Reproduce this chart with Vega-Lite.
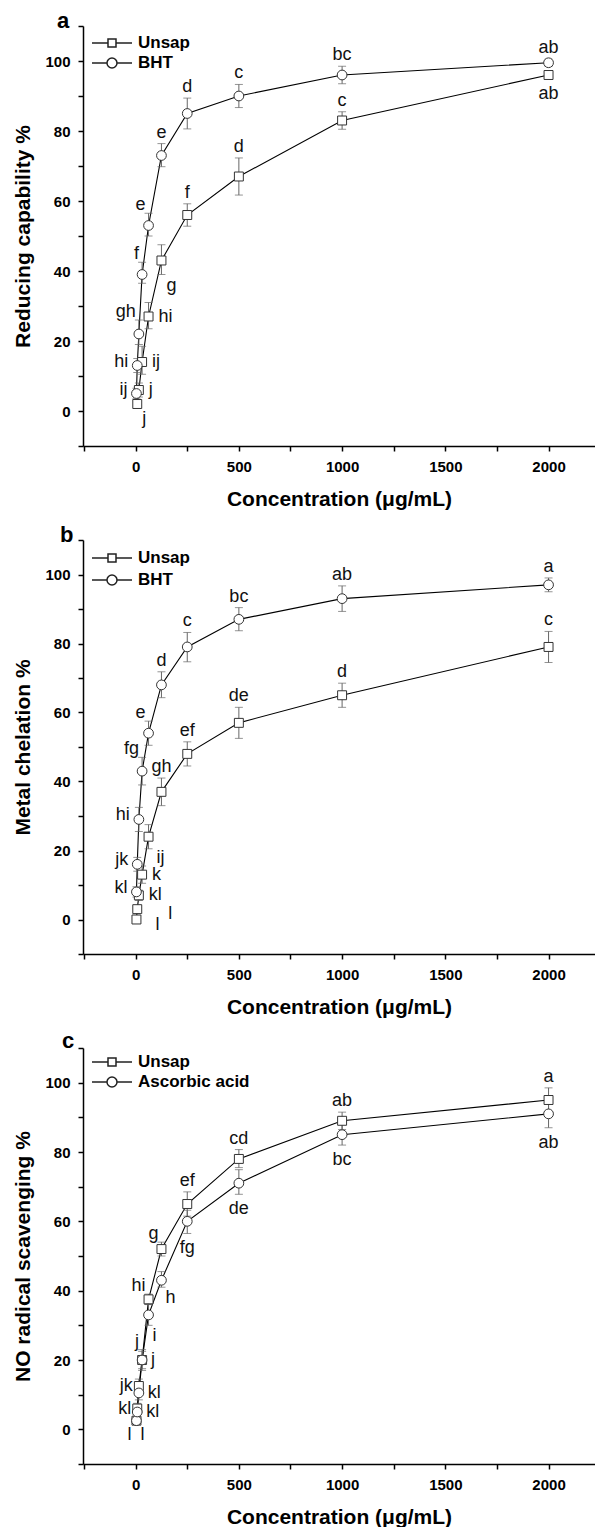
{
  "$schema": "https://vega.github.io/schema/vega-lite/v6.json",
  "background": "white",
  "padding": {"left": 12, "top": 10, "right": 0, "bottom": 0},
  "bounds": "flush",
  "spacing": 94,
  "resolve": {"scale": {"shape": "independent"}, "legend": {"shape": "independent"}},
  "datasets": {
    "a": [
      {"s":"Unsap","conc":7.8,"mean":2,"lower":1,"upper":3,"label":"j","side":"downright"},
      {"s":"Unsap","conc":15.6,"mean":6,"lower":4,"upper":8,"label":"j","side":"right"},
      {"s":"Unsap","conc":31.25,"mean":14,"lower":10.5,"upper":18.5,"label":"ij","side":"right"},
      {"s":"Unsap","conc":62.5,"mean":27,"lower":23.5,"upper":31,"label":"hi","side":"right"},
      {"s":"Unsap","conc":125,"mean":43,"lower":39,"upper":47.5,"label":"g","side":"downright"},
      {"s":"Unsap","conc":250,"mean":56,"lower":52.8,"upper":59.2,"label":"f","side":"above"},
      {"s":"Unsap","conc":500,"mean":67,"lower":61.7,"upper":72.3,"label":"d","side":"above"},
      {"s":"Unsap","conc":1000,"mean":83,"lower":80.5,"upper":85.5,"label":"c","side":"above"},
      {"s":"Unsap","conc":2000,"mean":96,"lower":95,"upper":97,"label":"ab","side":"below"},
      {"s":"BHT","conc":3.9,"mean":5,"lower":3.5,"upper":6.5,"label":"ij","side":"left"},
      {"s":"BHT","conc":7.8,"mean":13,"lower":11,"upper":15,"label":"hi","side":"left"},
      {"s":"BHT","conc":15.6,"mean":22,"lower":19,"upper":26,"label":"gh","side":"upleft"},
      {"s":"BHT","conc":31.25,"mean":39,"lower":36.5,"upper":42.5,"label":"f","side":"upleft"},
      {"s":"BHT","conc":62.5,"mean":53,"lower":50,"upper":56.5,"label":"e","side":"upleft"},
      {"s":"BHT","conc":125,"mean":73,"lower":69.8,"upper":76.4,"label":"e","side":"above"},
      {"s":"BHT","conc":250,"mean":85,"lower":80.6,"upper":89.4,"label":"d","side":"above"},
      {"s":"BHT","conc":500,"mean":90,"lower":86.7,"upper":93.3,"label":"c","side":"above"},
      {"s":"BHT","conc":1000,"mean":96,"lower":93.5,"upper":98.5,"label":"bc","side":"above"},
      {"s":"BHT","conc":2000,"mean":99.5,"lower":98.5,"upper":100.5,"label":"ab","side":"above"}
    ],
    "b": [
      {"s":"Unsap","conc":3.9,"mean":0,"lower":-0.5,"upper":0.5,"label":"l","side":"midright"},
      {"s":"Unsap","conc":7.8,"mean":3,"lower":2,"upper":4,"label":"l","side":"farright"},
      {"s":"Unsap","conc":15.6,"mean":7,"lower":5.5,"upper":8.5,"label":"kl","side":"right"},
      {"s":"Unsap","conc":31.25,"mean":13,"lower":10.5,"upper":15.5,"label":"k","side":"right"},
      {"s":"Unsap","conc":62.5,"mean":24,"lower":20.5,"upper":27.5,"label":"ij","side":"downright"},
      {"s":"Unsap","conc":125,"mean":37,"lower":33,"upper":41,"label":"gh","side":"above"},
      {"s":"Unsap","conc":250,"mean":48,"lower":44.5,"upper":51.5,"label":"ef","side":"above"},
      {"s":"Unsap","conc":500,"mean":57,"lower":52.5,"upper":61.5,"label":"de","side":"above"},
      {"s":"Unsap","conc":1000,"mean":65,"lower":61.5,"upper":68.5,"label":"d","side":"above"},
      {"s":"Unsap","conc":2000,"mean":79,"lower":74.5,"upper":83.5,"label":"c","side":"above"},
      {"s":"BHT","conc":3.9,"mean":8,"lower":6.5,"upper":9.5,"label":"kl","side":"left"},
      {"s":"BHT","conc":7.8,"mean":16,"lower":14,"upper":18,"label":"jk","side":"left"},
      {"s":"BHT","conc":15.6,"mean":29,"lower":25.5,"upper":32.5,"label":"hi","side":"left"},
      {"s":"BHT","conc":31.25,"mean":43,"lower":39,"upper":47,"label":"fg","side":"upleft"},
      {"s":"BHT","conc":62.5,"mean":54,"lower":50.5,"upper":57.5,"label":"e","side":"upleft"},
      {"s":"BHT","conc":125,"mean":68,"lower":64.3,"upper":71.8,"label":"d","side":"above"},
      {"s":"BHT","conc":250,"mean":79,"lower":74.7,"upper":83.2,"label":"c","side":"above"},
      {"s":"BHT","conc":500,"mean":87,"lower":83.7,"upper":90.4,"label":"bc","side":"above"},
      {"s":"BHT","conc":1000,"mean":93,"lower":89.3,"upper":96.7,"label":"ab","side":"above"},
      {"s":"BHT","conc":2000,"mean":97,"lower":95,"upper":99,"label":"a","side":"above"}
    ],
    "c": [
      {"s":"Unsap","conc":3.9,"mean":2.5,"lower":1.5,"upper":3.5,"label":"l","side":"downleft"},
      {"s":"Unsap","conc":7.8,"mean":6,"lower":4.5,"upper":7.5,"label":"kl","side":"left"},
      {"s":"Unsap","conc":15.6,"mean":12.5,"lower":10.5,"upper":14.5,"label":"jk","side":"left"},
      {"s":"Unsap","conc":31.25,"mean":20,"lower":17,"upper":23,"label":"j","side":"upleft"},
      {"s":"Unsap","conc":62.5,"mean":37.5,"lower":36,"upper":39,"label":"hi","side":"upleft"},
      {"s":"Unsap","conc":125,"mean":52,"lower":50,"upper":54,"label":"g","side":"upleft"},
      {"s":"Unsap","conc":250,"mean":65,"lower":61.5,"upper":68.5,"label":"ef","side":"above"},
      {"s":"Unsap","conc":500,"mean":78,"lower":75.5,"upper":80.7,"label":"cd","side":"above"},
      {"s":"Unsap","conc":1000,"mean":89,"lower":86.5,"upper":91.5,"label":"ab","side":"above"},
      {"s":"Unsap","conc":2000,"mean":95,"lower":91.5,"upper":98.5,"label":"a","side":"above"},
      {"s":"Ascorbic acid","conc":3.9,"mean":2.5,"lower":1.5,"upper":3.5,"label":"l","side":"downright"},
      {"s":"Ascorbic acid","conc":7.8,"mean":5,"lower":3.5,"upper":6.5,"label":"kl","side":"right"},
      {"s":"Ascorbic acid","conc":15.6,"mean":10.5,"lower":8.5,"upper":12.5,"label":"kl","side":"right"},
      {"s":"Ascorbic acid","conc":31.25,"mean":20,"lower":17.5,"upper":22.5,"label":"j","side":"right"},
      {"s":"Ascorbic acid","conc":62.5,"mean":33,"lower":30,"upper":36,"label":"i","side":"downright"},
      {"s":"Ascorbic acid","conc":125,"mean":43,"lower":41,"upper":45.5,"label":"h","side":"downright"},
      {"s":"Ascorbic acid","conc":250,"mean":60,"lower":56.5,"upper":63.2,"label":"fg","side":"below"},
      {"s":"Ascorbic acid","conc":500,"mean":71,"lower":67.8,"upper":74.9,"label":"de","side":"below"},
      {"s":"Ascorbic acid","conc":1000,"mean":85,"lower":82,"upper":88,"label":"bc","side":"below"},
      {"s":"Ascorbic acid","conc":2000,"mean":91,"lower":87,"upper":95,"label":"ab","side":"below"}
    ]
  },
  "vconcat": [
    {
      "width": 512, "height": 420,
      "data": {"name": "a"},
      "title": {"text": "a", "anchor": "start", "frame": "group", "dx": -26, "offset": -14, "fontSize": 22, "fontWeight": "bold", "font": "Liberation Sans", "color": "black"},
      "encoding": {
        "x": {"field": "conc", "type": "quantitative", "scale": {"domain": [-255, 2225], "nice": false, "zero": false},
          "axis": {"title": "Concentration (μg/mL)", "values": [-250, 0, 250, 500, 750, 1000, 1250, 1500, 1750, 2000], "format": "d", "labelExpr": "datum.value >= 0 && datum.value % 500 == 0 ? datum.label : ''", "labelPadding": 8, "titlePadding": 14}}
      },
      "layer": [
        {"mark": {"type": "line", "color": "black", "strokeWidth": 1.1},
         "encoding": {"y": {"field": "mean", "type": "quantitative", "scale": {"domain": [-10, 110], "nice": false, "zero": false}, "axis": {"title": "Reducing capability %", "values": [-10, 0, 10, 20, 30, 40, 50, 60, 70, 80, 90, 100, 110], "format": "d", "labelExpr": "datum.value >= 0 && datum.value <= 100 && datum.value % 20 == 0 ? datum.label : ''", "labelPadding": 8, "titlePadding": 11}},
           "detail": {"field": "s"}}},
        {"mark": {"type": "errorbar", "ticks": {"size": 8}, "color": "#666", "thickness": 1},
         "encoding": {"y": {"field": "lower", "type": "quantitative", "scale": {"domain": [-10, 110], "nice": false, "zero": false}, "axis": {"title": "Reducing capability %", "values": [-10, 0, 10, 20, 30, 40, 50, 60, 70, 80, 90, 100, 110], "format": "d", "labelExpr": "datum.value >= 0 && datum.value <= 100 && datum.value % 20 == 0 ? datum.label : ''", "labelPadding": 8, "titlePadding": 11}}, "y2": {"field": "upper"}}},
        {"transform": [{"filter": "datum.s === 'Unsap'"}], "mark": {"type": "point", "shape": "square", "filled": true, "fill": "white", "stroke": "#333", "strokeWidth": 1, "opacity": 1, "size": 80},
         "encoding": {"y": {"field": "mean", "type": "quantitative", "scale": {"domain": [-10, 110], "nice": false, "zero": false}, "axis": {"title": "Reducing capability %", "values": [-10, 0, 10, 20, 30, 40, 50, 60, 70, 80, 90, 100, 110], "format": "d", "labelExpr": "datum.value >= 0 && datum.value <= 100 && datum.value % 20 == 0 ? datum.label : ''", "labelPadding": 8, "titlePadding": 11}}}},
        {"transform": [{"filter": "datum.s !== 'Unsap'"}], "mark": {"type": "point", "shape": "circle", "filled": true, "fill": "white", "stroke": "#333", "strokeWidth": 1, "opacity": 1, "size": 95},
         "encoding": {"y": {"field": "mean", "type": "quantitative", "scale": {"domain": [-10, 110], "nice": false, "zero": false}, "axis": {"title": "Reducing capability %", "values": [-10, 0, 10, 20, 30, 40, 50, 60, 70, 80, 90, 100, 110], "format": "d", "labelExpr": "datum.value >= 0 && datum.value <= 100 && datum.value % 20 == 0 ? datum.label : ''", "labelPadding": 8, "titlePadding": 11}}}},
        {"transform": [{"filter": "false"}], "mark": {"type": "point", "filled": true, "fill": "white", "stroke": "#222", "strokeWidth": 1, "opacity": 1},
         "encoding": {"y": {"field": "mean", "type": "quantitative", "scale": {"domain": [-10, 110], "nice": false, "zero": false}, "axis": {"title": "Reducing capability %", "values": [-10, 0, 10, 20, 30, 40, 50, 60, 70, 80, 90, 100, 110], "format": "d", "labelExpr": "datum.value >= 0 && datum.value <= 100 && datum.value % 20 == 0 ? datum.label : ''", "labelPadding": 8, "titlePadding": 11}},
           "shape": {"field": "s", "type": "nominal", "scale": {"domain": ["Unsap", "BHT"], "range": ["M-2,0L-0.4,0M0.4,0L2,0M-0.4,-0.4L0.4,-0.4L0.4,0.4L-0.4,0.4Z", "M-2,0L-0.5,0M0.5,0L2,0M0.5,0A0.5,0.5,0,1,1,-0.5,0A0.5,0.5,0,1,1,0.5,0Z"]},
             "legend": {"title": null, "orient": "none", "legendX": 18, "legendY": 6, "padding": 0, "symbolSize": 400, "rowPadding": 1, "labelOffset": 15, "labelFont": "Liberation Sans", "labelFontSize": 17, "labelFontWeight": "bold", "labelColor": "black"}}}},
        {"transform": [{"filter": "datum.side === 'above'"}], "mark": {"type": "text", "font": "Liberation Sans", "fontSize": 18, "color": "#111", "align": "center", "baseline": "alphabetic", "dy": -6},
         "encoding": {"y": {"field": "upper", "type": "quantitative", "scale": {"domain": [-10, 110], "nice": false, "zero": false}, "axis": {"title": "Reducing capability %", "values": [-10, 0, 10, 20, 30, 40, 50, 60, 70, 80, 90, 100, 110], "format": "d", "labelExpr": "datum.value >= 0 && datum.value <= 100 && datum.value % 20 == 0 ? datum.label : ''", "labelPadding": 8, "titlePadding": 11}}, "text": {"field": "label"}}},
        {"transform": [{"filter": "datum.side === 'below'"}], "mark": {"type": "text", "font": "Liberation Sans", "fontSize": 18, "color": "#111", "align": "center", "baseline": "top", "dy": 6},
         "encoding": {"y": {"field": "lower", "type": "quantitative", "scale": {"domain": [-10, 110], "nice": false, "zero": false}, "axis": {"title": "Reducing capability %", "values": [-10, 0, 10, 20, 30, 40, 50, 60, 70, 80, 90, 100, 110], "format": "d", "labelExpr": "datum.value >= 0 && datum.value <= 100 && datum.value % 20 == 0 ? datum.label : ''", "labelPadding": 8, "titlePadding": 11}}, "text": {"field": "label"}}},
        {"transform": [{"filter": "datum.side === 'upleft'"}], "mark": {"type": "text", "font": "Liberation Sans", "fontSize": 18, "color": "#111", "align": "right", "baseline": "alphabetic", "dx": -3, "dy": -3},
         "encoding": {"y": {"field": "upper", "type": "quantitative", "scale": {"domain": [-10, 110], "nice": false, "zero": false}, "axis": {"title": "Reducing capability %", "values": [-10, 0, 10, 20, 30, 40, 50, 60, 70, 80, 90, 100, 110], "format": "d", "labelExpr": "datum.value >= 0 && datum.value <= 100 && datum.value % 20 == 0 ? datum.label : ''", "labelPadding": 8, "titlePadding": 11}}, "text": {"field": "label"}}},
        {"transform": [{"filter": "datum.side === 'left'"}], "mark": {"type": "text", "font": "Liberation Sans", "fontSize": 18, "color": "#111", "align": "right", "baseline": "middle", "dx": -9, "dy": -4},
         "encoding": {"y": {"field": "mean", "type": "quantitative", "scale": {"domain": [-10, 110], "nice": false, "zero": false}, "axis": {"title": "Reducing capability %", "values": [-10, 0, 10, 20, 30, 40, 50, 60, 70, 80, 90, 100, 110], "format": "d", "labelExpr": "datum.value >= 0 && datum.value <= 100 && datum.value % 20 == 0 ? datum.label : ''", "labelPadding": 8, "titlePadding": 11}}, "text": {"field": "label"}}},
        {"transform": [{"filter": "datum.side === 'right'"}], "mark": {"type": "text", "font": "Liberation Sans", "fontSize": 18, "color": "#111", "align": "left", "baseline": "middle", "dx": 10},
         "encoding": {"y": {"field": "mean", "type": "quantitative", "scale": {"domain": [-10, 110], "nice": false, "zero": false}, "axis": {"title": "Reducing capability %", "values": [-10, 0, 10, 20, 30, 40, 50, 60, 70, 80, 90, 100, 110], "format": "d", "labelExpr": "datum.value >= 0 && datum.value <= 100 && datum.value % 20 == 0 ? datum.label : ''", "labelPadding": 8, "titlePadding": 11}}, "text": {"field": "label"}}},
        {"transform": [{"filter": "datum.side === 'downright'"}], "mark": {"type": "text", "font": "Liberation Sans", "fontSize": 18, "color": "#111", "align": "left", "baseline": "top", "dx": 5, "dy": 2},
         "encoding": {"y": {"field": "lower", "type": "quantitative", "scale": {"domain": [-10, 110], "nice": false, "zero": false}, "axis": {"title": "Reducing capability %", "values": [-10, 0, 10, 20, 30, 40, 50, 60, 70, 80, 90, 100, 110], "format": "d", "labelExpr": "datum.value >= 0 && datum.value <= 100 && datum.value % 20 == 0 ? datum.label : ''", "labelPadding": 8, "titlePadding": 11}}, "text": {"field": "label"}}}
      ]
    },
    {
      "width": 512, "height": 414,
      "data": {"name": "b"},
      "title": {"text": "b", "anchor": "start", "frame": "group", "dx": -23, "offset": -14, "fontSize": 22, "fontWeight": "bold", "font": "Liberation Sans", "color": "black"},
      "encoding": {
        "x": {"field": "conc", "type": "quantitative", "scale": {"domain": [-255, 2225], "nice": false, "zero": false},
          "axis": {"title": "Concentration (μg/mL)", "values": [-250, 0, 250, 500, 750, 1000, 1250, 1500, 1750, 2000], "format": "d", "labelExpr": "datum.value >= 0 && datum.value % 500 == 0 ? datum.label : ''", "labelPadding": 8, "titlePadding": 14}}
      },
      "layer": [
        {"mark": {"type": "line", "color": "black", "strokeWidth": 1.1},
         "encoding": {"y": {"field": "mean", "type": "quantitative", "scale": {"domain": [-10, 110], "nice": false, "zero": false}, "axis": {"title": "Metal chelation %", "values": [-10, 0, 10, 20, 30, 40, 50, 60, 70, 80, 90, 100, 110], "format": "d", "labelExpr": "datum.value >= 0 && datum.value <= 100 && datum.value % 20 == 0 ? datum.label : ''", "labelPadding": 8, "titlePadding": 11}},
           "detail": {"field": "s"}}},
        {"mark": {"type": "errorbar", "ticks": {"size": 8}, "color": "#666", "thickness": 1},
         "encoding": {"y": {"field": "lower", "type": "quantitative", "scale": {"domain": [-10, 110], "nice": false, "zero": false}, "axis": {"title": "Metal chelation %", "values": [-10, 0, 10, 20, 30, 40, 50, 60, 70, 80, 90, 100, 110], "format": "d", "labelExpr": "datum.value >= 0 && datum.value <= 100 && datum.value % 20 == 0 ? datum.label : ''", "labelPadding": 8, "titlePadding": 11}}, "y2": {"field": "upper"}}},
        {"transform": [{"filter": "datum.s === 'Unsap'"}], "mark": {"type": "point", "shape": "square", "filled": true, "fill": "white", "stroke": "#333", "strokeWidth": 1, "opacity": 1, "size": 80},
         "encoding": {"y": {"field": "mean", "type": "quantitative", "scale": {"domain": [-10, 110], "nice": false, "zero": false}, "axis": {"title": "Metal chelation %", "values": [-10, 0, 10, 20, 30, 40, 50, 60, 70, 80, 90, 100, 110], "format": "d", "labelExpr": "datum.value >= 0 && datum.value <= 100 && datum.value % 20 == 0 ? datum.label : ''", "labelPadding": 8, "titlePadding": 11}}}},
        {"transform": [{"filter": "datum.s !== 'Unsap'"}], "mark": {"type": "point", "shape": "circle", "filled": true, "fill": "white", "stroke": "#333", "strokeWidth": 1, "opacity": 1, "size": 95},
         "encoding": {"y": {"field": "mean", "type": "quantitative", "scale": {"domain": [-10, 110], "nice": false, "zero": false}, "axis": {"title": "Metal chelation %", "values": [-10, 0, 10, 20, 30, 40, 50, 60, 70, 80, 90, 100, 110], "format": "d", "labelExpr": "datum.value >= 0 && datum.value <= 100 && datum.value % 20 == 0 ? datum.label : ''", "labelPadding": 8, "titlePadding": 11}}}},
        {"transform": [{"filter": "false"}], "mark": {"type": "point", "filled": true, "fill": "white", "stroke": "#222", "strokeWidth": 1, "opacity": 1},
         "encoding": {"y": {"field": "mean", "type": "quantitative", "scale": {"domain": [-10, 110], "nice": false, "zero": false}, "axis": {"title": "Metal chelation %", "values": [-10, 0, 10, 20, 30, 40, 50, 60, 70, 80, 90, 100, 110], "format": "d", "labelExpr": "datum.value >= 0 && datum.value <= 100 && datum.value % 20 == 0 ? datum.label : ''", "labelPadding": 8, "titlePadding": 11}},
           "shape": {"field": "s", "type": "nominal", "scale": {"domain": ["Unsap", "BHT"], "range": ["M-2,0L-0.4,0M0.4,0L2,0M-0.4,-0.4L0.4,-0.4L0.4,0.4L-0.4,0.4Z", "M-2,0L-0.5,0M0.5,0L2,0M0.5,0A0.5,0.5,0,1,1,-0.5,0A0.5,0.5,0,1,1,0.5,0Z"]},
             "legend": {"title": null, "orient": "none", "legendX": 18, "legendY": 7, "padding": 0, "symbolSize": 400, "rowPadding": 3, "labelOffset": 15, "labelFont": "Liberation Sans", "labelFontSize": 17, "labelFontWeight": "bold", "labelColor": "black"}}}},
        {"transform": [{"filter": "datum.side === 'above'"}], "mark": {"type": "text", "font": "Liberation Sans", "fontSize": 18, "color": "#111", "align": "center", "baseline": "alphabetic", "dy": -6},
         "encoding": {"y": {"field": "upper", "type": "quantitative", "scale": {"domain": [-10, 110], "nice": false, "zero": false}, "axis": {"title": "Metal chelation %", "values": [-10, 0, 10, 20, 30, 40, 50, 60, 70, 80, 90, 100, 110], "format": "d", "labelExpr": "datum.value >= 0 && datum.value <= 100 && datum.value % 20 == 0 ? datum.label : ''", "labelPadding": 8, "titlePadding": 11}}, "text": {"field": "label"}}},
        {"transform": [{"filter": "datum.side === 'upleft'"}], "mark": {"type": "text", "font": "Liberation Sans", "fontSize": 18, "color": "#111", "align": "right", "baseline": "alphabetic", "dx": -3, "dy": -3},
         "encoding": {"y": {"field": "upper", "type": "quantitative", "scale": {"domain": [-10, 110], "nice": false, "zero": false}, "axis": {"title": "Metal chelation %", "values": [-10, 0, 10, 20, 30, 40, 50, 60, 70, 80, 90, 100, 110], "format": "d", "labelExpr": "datum.value >= 0 && datum.value <= 100 && datum.value % 20 == 0 ? datum.label : ''", "labelPadding": 8, "titlePadding": 11}}, "text": {"field": "label"}}},
        {"transform": [{"filter": "datum.side === 'left'"}], "mark": {"type": "text", "font": "Liberation Sans", "fontSize": 18, "color": "#111", "align": "right", "baseline": "middle", "dx": -9, "dy": -4},
         "encoding": {"y": {"field": "mean", "type": "quantitative", "scale": {"domain": [-10, 110], "nice": false, "zero": false}, "axis": {"title": "Metal chelation %", "values": [-10, 0, 10, 20, 30, 40, 50, 60, 70, 80, 90, 100, 110], "format": "d", "labelExpr": "datum.value >= 0 && datum.value <= 100 && datum.value % 20 == 0 ? datum.label : ''", "labelPadding": 8, "titlePadding": 11}}, "text": {"field": "label"}}},
        {"transform": [{"filter": "datum.side === 'right'"}], "mark": {"type": "text", "font": "Liberation Sans", "fontSize": 18, "color": "#111", "align": "left", "baseline": "middle", "dx": 10},
         "encoding": {"y": {"field": "mean", "type": "quantitative", "scale": {"domain": [-10, 110], "nice": false, "zero": false}, "axis": {"title": "Metal chelation %", "values": [-10, 0, 10, 20, 30, 40, 50, 60, 70, 80, 90, 100, 110], "format": "d", "labelExpr": "datum.value >= 0 && datum.value <= 100 && datum.value % 20 == 0 ? datum.label : ''", "labelPadding": 8, "titlePadding": 11}}, "text": {"field": "label"}}},
        {"transform": [{"filter": "datum.side === 'midright'"}], "mark": {"type": "text", "font": "Liberation Sans", "fontSize": 18, "color": "#111", "align": "left", "baseline": "middle", "dx": 19, "dy": 5},
         "encoding": {"y": {"field": "mean", "type": "quantitative", "scale": {"domain": [-10, 110], "nice": false, "zero": false}, "axis": {"title": "Metal chelation %", "values": [-10, 0, 10, 20, 30, 40, 50, 60, 70, 80, 90, 100, 110], "format": "d", "labelExpr": "datum.value >= 0 && datum.value <= 100 && datum.value % 20 == 0 ? datum.label : ''", "labelPadding": 8, "titlePadding": 11}}, "text": {"field": "label"}}},
        {"transform": [{"filter": "datum.side === 'farright'"}], "mark": {"type": "text", "font": "Liberation Sans", "fontSize": 18, "color": "#111", "align": "left", "baseline": "middle", "dx": 31, "dy": 5},
         "encoding": {"y": {"field": "mean", "type": "quantitative", "scale": {"domain": [-10, 110], "nice": false, "zero": false}, "axis": {"title": "Metal chelation %", "values": [-10, 0, 10, 20, 30, 40, 50, 60, 70, 80, 90, 100, 110], "format": "d", "labelExpr": "datum.value >= 0 && datum.value <= 100 && datum.value % 20 == 0 ? datum.label : ''", "labelPadding": 8, "titlePadding": 11}}, "text": {"field": "label"}}},
        {"transform": [{"filter": "datum.side === 'downright'"}], "mark": {"type": "text", "font": "Liberation Sans", "fontSize": 18, "color": "#111", "align": "left", "baseline": "top", "dx": 8, "dy": 0},
         "encoding": {"y": {"field": "lower", "type": "quantitative", "scale": {"domain": [-10, 110], "nice": false, "zero": false}, "axis": {"title": "Metal chelation %", "values": [-10, 0, 10, 20, 30, 40, 50, 60, 70, 80, 90, 100, 110], "format": "d", "labelExpr": "datum.value >= 0 && datum.value <= 100 && datum.value % 20 == 0 ? datum.label : ''", "labelPadding": 8, "titlePadding": 11}}, "text": {"field": "label"}}}
      ]
    },
    {
      "width": 512, "height": 416,
      "data": {"name": "c"},
      "title": {"text": "c", "anchor": "start", "frame": "group", "dx": -21, "offset": -12, "fontSize": 22, "fontWeight": "bold", "font": "Liberation Sans", "color": "black"},
      "encoding": {
        "x": {"field": "conc", "type": "quantitative", "scale": {"domain": [-255, 2225], "nice": false, "zero": false},
          "axis": {"title": "Concentration (μg/mL)", "values": [-250, 0, 250, 500, 750, 1000, 1250, 1500, 1750, 2000], "format": "d", "labelExpr": "datum.value >= 0 && datum.value % 500 == 0 ? datum.label : ''", "labelPadding": 8, "titlePadding": 14}}
      },
      "layer": [
        {"mark": {"type": "line", "color": "black", "strokeWidth": 1.1},
         "encoding": {"y": {"field": "mean", "type": "quantitative", "scale": {"domain": [-10, 110], "nice": false, "zero": false}, "axis": {"title": "NO radical scavenging %", "values": [-10, 0, 10, 20, 30, 40, 50, 60, 70, 80, 90, 100, 110], "format": "d", "labelExpr": "datum.value >= 0 && datum.value <= 100 && datum.value % 20 == 0 ? datum.label : ''", "labelPadding": 8, "titlePadding": 11}},
           "detail": {"field": "s"}}},
        {"mark": {"type": "errorbar", "ticks": {"size": 8}, "color": "#666", "thickness": 1},
         "encoding": {"y": {"field": "lower", "type": "quantitative", "scale": {"domain": [-10, 110], "nice": false, "zero": false}, "axis": {"title": "NO radical scavenging %", "values": [-10, 0, 10, 20, 30, 40, 50, 60, 70, 80, 90, 100, 110], "format": "d", "labelExpr": "datum.value >= 0 && datum.value <= 100 && datum.value % 20 == 0 ? datum.label : ''", "labelPadding": 8, "titlePadding": 11}}, "y2": {"field": "upper"}}},
        {"transform": [{"filter": "datum.s === 'Unsap'"}], "mark": {"type": "point", "shape": "square", "filled": true, "fill": "white", "stroke": "#333", "strokeWidth": 1, "opacity": 1, "size": 80},
         "encoding": {"y": {"field": "mean", "type": "quantitative", "scale": {"domain": [-10, 110], "nice": false, "zero": false}, "axis": {"title": "NO radical scavenging %", "values": [-10, 0, 10, 20, 30, 40, 50, 60, 70, 80, 90, 100, 110], "format": "d", "labelExpr": "datum.value >= 0 && datum.value <= 100 && datum.value % 20 == 0 ? datum.label : ''", "labelPadding": 8, "titlePadding": 11}}}},
        {"transform": [{"filter": "datum.s !== 'Unsap'"}], "mark": {"type": "point", "shape": "circle", "filled": true, "fill": "white", "stroke": "#333", "strokeWidth": 1, "opacity": 1, "size": 95},
         "encoding": {"y": {"field": "mean", "type": "quantitative", "scale": {"domain": [-10, 110], "nice": false, "zero": false}, "axis": {"title": "NO radical scavenging %", "values": [-10, 0, 10, 20, 30, 40, 50, 60, 70, 80, 90, 100, 110], "format": "d", "labelExpr": "datum.value >= 0 && datum.value <= 100 && datum.value % 20 == 0 ? datum.label : ''", "labelPadding": 8, "titlePadding": 11}}}},
        {"transform": [{"filter": "false"}], "mark": {"type": "point", "filled": true, "fill": "white", "stroke": "#222", "strokeWidth": 1, "opacity": 1},
         "encoding": {"y": {"field": "mean", "type": "quantitative", "scale": {"domain": [-10, 110], "nice": false, "zero": false}, "axis": {"title": "NO radical scavenging %", "values": [-10, 0, 10, 20, 30, 40, 50, 60, 70, 80, 90, 100, 110], "format": "d", "labelExpr": "datum.value >= 0 && datum.value <= 100 && datum.value % 20 == 0 ? datum.label : ''", "labelPadding": 8, "titlePadding": 11}},
           "shape": {"field": "s", "type": "nominal", "scale": {"domain": ["Unsap", "Ascorbic acid"], "range": ["M-2,0L-0.4,0M0.4,0L2,0M-0.4,-0.4L0.4,-0.4L0.4,0.4L-0.4,0.4Z", "M-2,0L-0.5,0M0.5,0L2,0M0.5,0A0.5,0.5,0,1,1,-0.5,0A0.5,0.5,0,1,1,0.5,0Z"]},
             "legend": {"title": null, "orient": "none", "legendX": 18, "legendY": 3, "padding": 0, "symbolSize": 400, "rowPadding": 1, "labelOffset": 15, "labelFont": "Liberation Sans", "labelFontSize": 17, "labelFontWeight": "bold", "labelColor": "black"}}}},
        {"transform": [{"filter": "datum.side === 'above'"}], "mark": {"type": "text", "font": "Liberation Sans", "fontSize": 18, "color": "#111", "align": "center", "baseline": "alphabetic", "dy": -6},
         "encoding": {"y": {"field": "upper", "type": "quantitative", "scale": {"domain": [-10, 110], "nice": false, "zero": false}, "axis": {"title": "NO radical scavenging %", "values": [-10, 0, 10, 20, 30, 40, 50, 60, 70, 80, 90, 100, 110], "format": "d", "labelExpr": "datum.value >= 0 && datum.value <= 100 && datum.value % 20 == 0 ? datum.label : ''", "labelPadding": 8, "titlePadding": 11}}, "text": {"field": "label"}}},
        {"transform": [{"filter": "datum.side === 'below'"}], "mark": {"type": "text", "font": "Liberation Sans", "fontSize": 18, "color": "#111", "align": "center", "baseline": "top", "dy": 6},
         "encoding": {"y": {"field": "lower", "type": "quantitative", "scale": {"domain": [-10, 110], "nice": false, "zero": false}, "axis": {"title": "NO radical scavenging %", "values": [-10, 0, 10, 20, 30, 40, 50, 60, 70, 80, 90, 100, 110], "format": "d", "labelExpr": "datum.value >= 0 && datum.value <= 100 && datum.value % 20 == 0 ? datum.label : ''", "labelPadding": 8, "titlePadding": 11}}, "text": {"field": "label"}}},
        {"transform": [{"filter": "datum.side === 'upleft'"}], "mark": {"type": "text", "font": "Liberation Sans", "fontSize": 18, "color": "#111", "align": "right", "baseline": "alphabetic", "dx": -3, "dy": -3},
         "encoding": {"y": {"field": "upper", "type": "quantitative", "scale": {"domain": [-10, 110], "nice": false, "zero": false}, "axis": {"title": "NO radical scavenging %", "values": [-10, 0, 10, 20, 30, 40, 50, 60, 70, 80, 90, 100, 110], "format": "d", "labelExpr": "datum.value >= 0 && datum.value <= 100 && datum.value % 20 == 0 ? datum.label : ''", "labelPadding": 8, "titlePadding": 11}}, "text": {"field": "label"}}},
        {"transform": [{"filter": "datum.side === 'left'"}], "mark": {"type": "text", "font": "Liberation Sans", "fontSize": 18, "color": "#111", "align": "right", "baseline": "middle", "dx": -6, "dy": 0},
         "encoding": {"y": {"field": "mean", "type": "quantitative", "scale": {"domain": [-10, 110], "nice": false, "zero": false}, "axis": {"title": "NO radical scavenging %", "values": [-10, 0, 10, 20, 30, 40, 50, 60, 70, 80, 90, 100, 110], "format": "d", "labelExpr": "datum.value >= 0 && datum.value <= 100 && datum.value % 20 == 0 ? datum.label : ''", "labelPadding": 8, "titlePadding": 11}}, "text": {"field": "label"}}},
        {"transform": [{"filter": "datum.side === 'downleft'"}], "mark": {"type": "text", "font": "Liberation Sans", "fontSize": 18, "color": "#111", "align": "right", "baseline": "top", "dx": -5, "dy": 2},
         "encoding": {"y": {"field": "lower", "type": "quantitative", "scale": {"domain": [-10, 110], "nice": false, "zero": false}, "axis": {"title": "NO radical scavenging %", "values": [-10, 0, 10, 20, 30, 40, 50, 60, 70, 80, 90, 100, 110], "format": "d", "labelExpr": "datum.value >= 0 && datum.value <= 100 && datum.value % 20 == 0 ? datum.label : ''", "labelPadding": 8, "titlePadding": 11}}, "text": {"field": "label"}}},
        {"transform": [{"filter": "datum.side === 'right'"}], "mark": {"type": "text", "font": "Liberation Sans", "fontSize": 18, "color": "#111", "align": "left", "baseline": "middle", "dx": 9},
         "encoding": {"y": {"field": "mean", "type": "quantitative", "scale": {"domain": [-10, 110], "nice": false, "zero": false}, "axis": {"title": "NO radical scavenging %", "values": [-10, 0, 10, 20, 30, 40, 50, 60, 70, 80, 90, 100, 110], "format": "d", "labelExpr": "datum.value >= 0 && datum.value <= 100 && datum.value % 20 == 0 ? datum.label : ''", "labelPadding": 8, "titlePadding": 11}}, "text": {"field": "label"}}},
        {"transform": [{"filter": "datum.side === 'downright'"}], "mark": {"type": "text", "font": "Liberation Sans", "fontSize": 18, "color": "#111", "align": "left", "baseline": "top", "dx": 4, "dy": 2},
         "encoding": {"y": {"field": "lower", "type": "quantitative", "scale": {"domain": [-10, 110], "nice": false, "zero": false}, "axis": {"title": "NO radical scavenging %", "values": [-10, 0, 10, 20, 30, 40, 50, 60, 70, 80, 90, 100, 110], "format": "d", "labelExpr": "datum.value >= 0 && datum.value <= 100 && datum.value % 20 == 0 ? datum.label : ''", "labelPadding": 8, "titlePadding": 11}}, "text": {"field": "label"}}}
      ]
    }
  ],
  "config": {
    "view": {"stroke": null},
    "font": "Liberation Sans",
    "axis": {
      "grid": false,
      "domainColor": "black", "domainWidth": 1.5,
      "tickColor": "black", "tickWidth": 1.5, "tickSize": 5,
      "labelFont": "Liberation Sans", "labelFontSize": 15, "labelFontWeight": "bold", "labelColor": "black",
      "labelOverlap": false, "labelFlush": false,
      "titleFont": "Liberation Sans", "titleFontSize": 21, "titleFontWeight": "bold", "titleColor": "black"
    }
  }
}
